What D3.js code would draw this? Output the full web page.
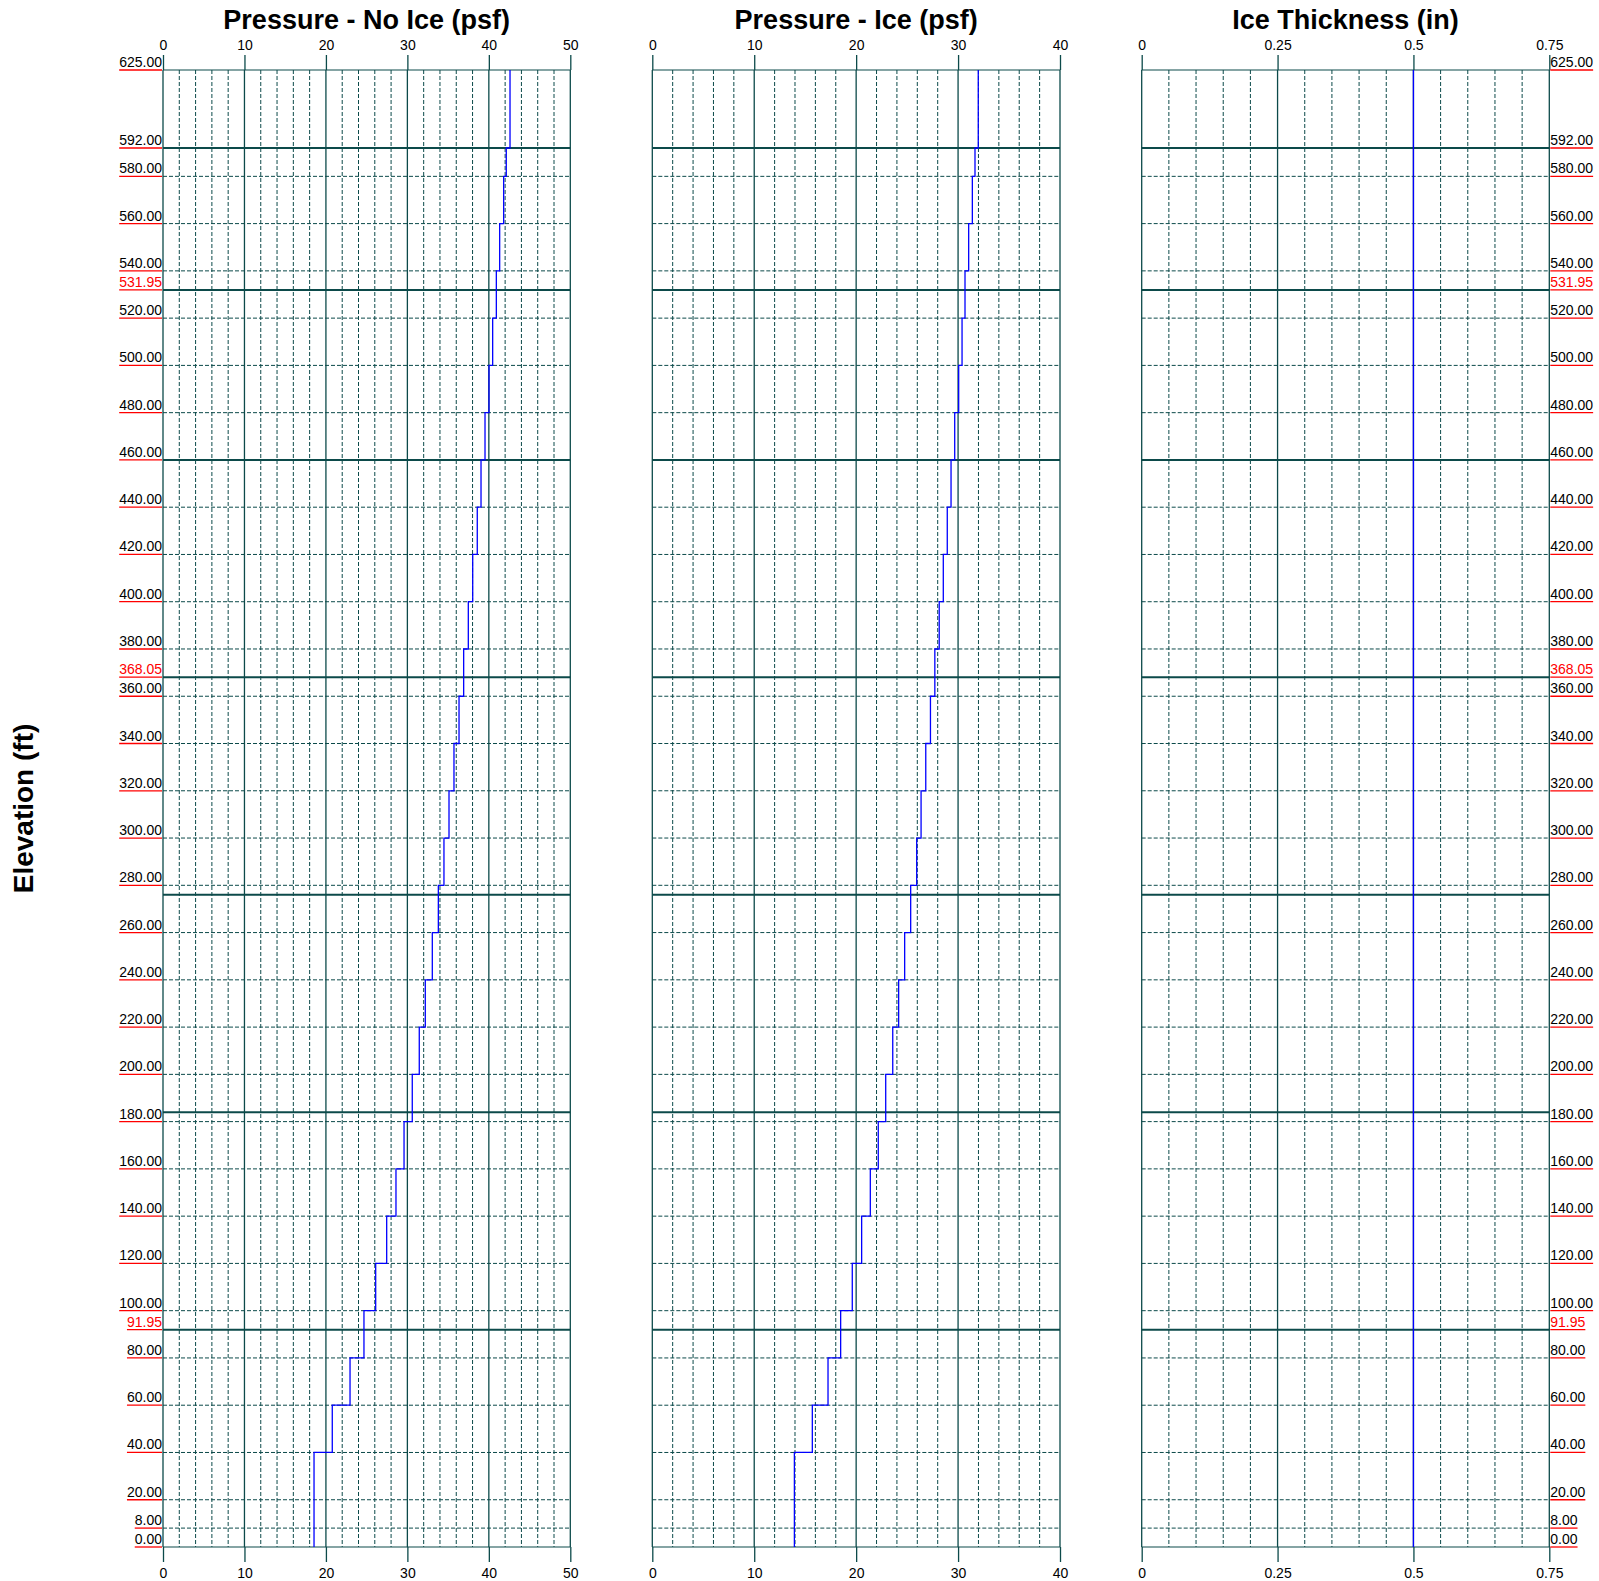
<!DOCTYPE html>
<html>
<head>
<meta charset="utf-8">
<script src="https://cdn.jsdelivr.net/npm/d3@7"></script>
<style>
  html, body { margin: 0; padding: 0; background: #fff; }
  svg { display: block; font-family: "Liberation Sans", Arial, sans-serif; }
</style>
</head>
<body>
<svg id="chart" width="1599" height="1581"></svg>
<script>
// ---------- DATA ----------
const segBottoms = [0,40,60,80,100,120,140,160,180,200,220,240,260,280,300,320,340,360,380,400,420,440,460,480,500,520,540,560,580,592];
const segTops    = [40,60,80,100,120,140,160,180,200,220,240,260,280,300,320,340,360,380,400,420,440,460,480,500,520,540,560,580,592,625];
const pressureNoIce = [18.54,20.78,22.96,24.67,26.11,27.46,28.60,29.59,30.60,31.46,32.20,33.06,33.80,34.49,35.11,35.72,36.34,36.91,37.48,38.02,38.58,39.04,39.53,40.02,40.47,40.92,41.33,41.82,42.14,42.60];
const pressureIce   = [13.94,15.70,17.24,18.48,19.62,20.54,21.39,22.17,22.90,23.59,24.17,24.76,25.35,25.94,26.37,26.83,27.29,27.72,28.15,28.55,28.94,29.31,29.67,30.06,30.39,30.68,31.04,31.40,31.66,31.98];
const iceThickness  = [0.5,0.5,0.5,0.5,0.5,0.5,0.5,0.5,0.5,0.5,0.5,0.5,0.5,0.5,0.5,0.5,0.5,0.5,0.5,0.5,0.5,0.5,0.5,0.5,0.5,0.5,0.5,0.5,0.5,0.5];

const elevationLabels = [625,592,580,560,540,531.95,520,500,480,460,440,420,400,380,368.05,360,340,320,300,280,260,240,220,200,180,160,140,120,100,91.95,80,60,40,20,8,0];
const redLabels = [531.95,368.05,91.95];
const sectionLines = [592,531.95,460,368.05,276,184,91.95];

const panelTitles = ["Pressure - No Ice (psf)", "Pressure - Ice (psf)", "Ice Thickness (in)"];
const panelMax = [50, 40, 0.75];
const majorTicks = [[0,10,20,30,40,50],[0,10,20,30,40],[0,0.25,0.5,0.75]];
const minorStep = [2, 2, 0.05];
const tickLabels = [["0","10","20","30","40","50"],["0","10","20","30","40"],["0","0.25","0.5","0.75"]];
const seriesList = [pressureNoIce, pressureIce, iceThickness];
const yTitle = "Elevation (ft)";

// ---------- LAYOUT ----------
const svg = d3.select("#chart");
const plotTop = 70, plotBottom = 1547;
const panelX = [[163, 570.3], [652.3, 1060], [1141.7, 1549.3]];
const gridColor = "#0c4a4a";

const y = d3.scaleLinear().domain([0, 625]).range([plotBottom, plotTop]);

panelX.forEach((px, p) => {
  const x = d3.scaleLinear().domain([0, panelMax[p]]).range(px);
  const g = svg.append("g");

  // minor vertical dashed
  const minors = d3.range(0, panelMax[p] + 1e-9, minorStep[p])
    .filter(v => !majorTicks[p].some(m => Math.abs(m - v) < 1e-6));
  g.selectAll(".vminor").data(minors).join("line")
    .attr("x1", d => x(d)).attr("x2", d => x(d))
    .attr("y1", plotTop).attr("y2", plotBottom)
    .attr("stroke", gridColor).attr("stroke-width", 1)
    .attr("stroke-dasharray", "4,2");

  // horizontal dashed at elevation labels
  const hd = elevationLabels.filter(e => e !== 0 && e !== 625 && !redLabels.includes(e));
  g.selectAll(".hdash").data(hd).join("line")
    .attr("x1", px[0]).attr("x2", px[1])
    .attr("y1", d => y(d)).attr("y2", d => y(d))
    .attr("stroke", gridColor).attr("stroke-width", 1)
    .attr("stroke-dasharray", "4,2");

  // major vertical solid
  g.selectAll(".vmajor").data(majorTicks[p]).join("line")
    .attr("x1", d => x(d)).attr("x2", d => x(d))
    .attr("y1", plotTop).attr("y2", plotBottom)
    .attr("stroke", gridColor).attr("stroke-width", 1.3);

  // border top/bottom
  g.selectAll(".hb").data([0, 625]).join("line")
    .attr("x1", px[0]).attr("x2", px[1])
    .attr("y1", d => y(d)).attr("y2", d => y(d))
    .attr("stroke", gridColor).attr("stroke-width", 1.2);

  // section lines (thick)
  g.selectAll(".sec").data(sectionLines).join("line")
    .attr("x1", px[0]).attr("x2", px[1])
    .attr("y1", d => y(d)).attr("y2", d => y(d))
    .attr("stroke", gridColor).attr("stroke-width", 2);

  // axes
  const axTop = d3.axisTop(x).tickValues(majorTicks[p])
    .tickFormat((d, i) => tickLabels[p][i]).tickSize(15).tickPadding(5);
  const axBot = d3.axisBottom(x).tickValues(majorTicks[p])
    .tickFormat((d, i) => tickLabels[p][i]).tickSize(15).tickPadding(6);
  [[axTop, plotTop], [axBot, plotBottom]].forEach(([ax, yy]) => {
    const a = svg.append("g").attr("transform", `translate(0,${yy})`).call(ax);
    a.select(".domain").remove();
    a.selectAll(".tick line").attr("stroke", gridColor).attr("stroke-width", 1.3);
    a.selectAll(".tick text").attr("font-size", 14).attr("fill", "#000")
      .attr("font-family", "'Liberation Sans', Arial, sans-serif");
  });

  // title
  svg.append("text")
    .attr("x", (px[0] + px[1]) / 2).attr("y", 29)
    .attr("text-anchor", "middle")
    .attr("font-size", 27).attr("font-weight", "bold")
    .text(panelTitles[p]);

  // step line
  const pts = [];
  seriesList[p].forEach((v, i) => {
    pts.push([v, segBottoms[i]]);
    pts.push([v, segTops[i]]);
  });
  const line = d3.line().x(d => x(d[0])).y(d => y(d[1]));
  g.append("path").datum(pts)
    .attr("d", line)
    .attr("fill", "none").attr("stroke", "#0000ff").attr("stroke-width", 1.3);
});

// elevation labels (left of panel 1, right of panel 3)
function drawLabels(xPos, anchor) {
  const lg = svg.append("g");
  elevationLabels.forEach(e => {
    const isRed = redLabels.includes(e);
    const t = lg.append("text")
      .attr("x", xPos).attr("y", y(e) - 3)
      .attr("text-anchor", anchor)
      .attr("font-size", 14)
      .attr("fill", isRed ? "#ff0000" : "#000")
      .text(e.toFixed(2));
    const w = t.node().getComputedTextLength();
    const x1 = anchor === "end" ? xPos - w : xPos;
    lg.append("line")
      .attr("x1", x1).attr("x2", x1 + w)
      .attr("y1", y(e)).attr("y2", y(e))
      .attr("stroke", "#ff0000").attr("stroke-width", 1.3);
  });
}
drawLabels(panelX[0][0] - 1, "end");
drawLabels(panelX[2][1] + 1, "start");

// y title
svg.append("text")
  .attr("transform", `translate(33,${(plotTop + plotBottom) / 2}) rotate(-90)`)
  .attr("text-anchor", "middle")
  .attr("font-size", 28).attr("font-weight", "bold")
  .text(yTitle);
</script>
</body>
</html>
